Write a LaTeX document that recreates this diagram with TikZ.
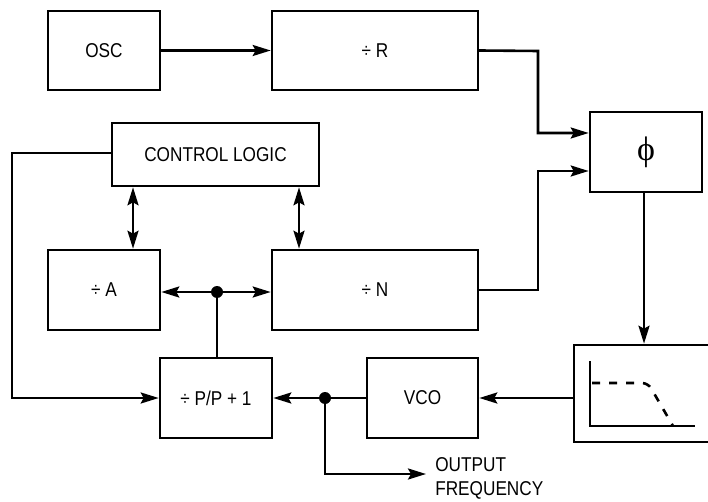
\documentclass[tikz,border=0pt]{standalone}
\usepackage{fontspec}
\setmainfont[FakeStretch=0.86]{Liberation Sans}
\newfontfamily\phifont{Liberation Serif}
\usetikzlibrary{arrows.meta}
\begin{document}
\begin{tikzpicture}[x=1pt,y=-1pt,line width=2.6pt,line cap=rect,
  box/.style={draw,line width=2.6pt,inner sep=0pt,font=\fontsize{20}{24}\selectfont},
  arr/.style={-{Stealth[length=18pt,width=11pt,inset=3pt]}},
  dbl/.style={{Stealth[length=18pt,width=11pt,inset=3pt]}-{Stealth[length=18pt,width=11pt,inset=3pt]}},
  dot/.style={circle,fill,inner sep=0pt,minimum size=12pt},
  lbl/.style={font=\fontsize{20}{24}\selectfont,align=left,inner sep=0pt}]
\useasboundingbox[fill=white] (0,0) rectangle (708,502);
% blocks
\node[box,minimum width=112pt,minimum height=79pt] (osc) at (104,50.5) {OSC};
\node[box,minimum width=206pt,minimum height=79pt] (divr) at (375,50.5) {÷ R};
\node[box,minimum width=112pt,minimum height=80pt] (phi) at (646,152) {\phifont\fontsize{34}{36}\selectfont ϕ};
\node[box,minimum width=207pt,minimum height=63pt] (cl) at (215.5,154.5) {CONTROL LOGIC};
\node[box,minimum width=112pt,minimum height=80pt] (diva) at (104,290) {÷ A};
\node[box,minimum width=206pt,minimum height=80pt] (divn) at (375,290) {÷ N};
\node[box,minimum width=112pt,minimum height=80pt] (divp) at (216,398) {÷ P/P + 1};
\node[box,minimum width=111pt,minimum height=80pt] (vco) at (422.5,398) {VCO};
\node[box,minimum width=140pt,minimum height=97pt] (filt) at (644,393.5) {};
% filter graphic
\draw (590,362) -- (590,426) -- (694,426);
\draw[dash pattern=on 8pt off 9pt,line cap=butt,rounded corners=6pt] (592,383) -- (648,383) -- (673,426);
% helper coordinates
\coordinate (r1) at (538,51);
\coordinate (n1) at (538,290);
\coordinate (c1) at (12,153);
\coordinate (xa) at (133,0);
\coordinate (xn) at (299,0);
\node[dot] (d1) at (217,292) {};
\node[dot] (d2) at (325,398) {};
\node[lbl,anchor=west] (out) at (434,478) {OUTPUT\\FREQUENCY};
\coordinate (o1) at (325,474);
% connectors
\draw[arr] (osc.east) -- (divr.west);
\draw[arr] (divr.east) -- (r1) |- ([yshift=19pt]phi.west);
\draw[arr] (divn.east) -- (n1) |- ([yshift=-19pt]phi.west);
\draw[arr] (phi.south -| filt.north) -- (filt.north);
\draw[arr] (filt.west |- vco.east) -- (vco.east);
\draw (vco.west) -- (d2);
\draw[arr] (d2) -- (divp.east);
\draw[arr] (d2) -- (o1) -- ([yshift=4pt,xshift=-8pt]out.west);
\draw[arr] (cl.west |- c1) -- (c1) |- (divp.west);
\draw[dbl] (cl.south -| xa) -- (diva.north -| xa);
\draw[dbl] (cl.south -| xn) -- (divn.north -| xn);
\draw[arr] (d1) -- (diva.east |- d1);
\draw[arr] (d1) -- (divn.west |- d1);
\draw (d1) -- (d1 |- divp.north);
\end{tikzpicture}
\end{document}
